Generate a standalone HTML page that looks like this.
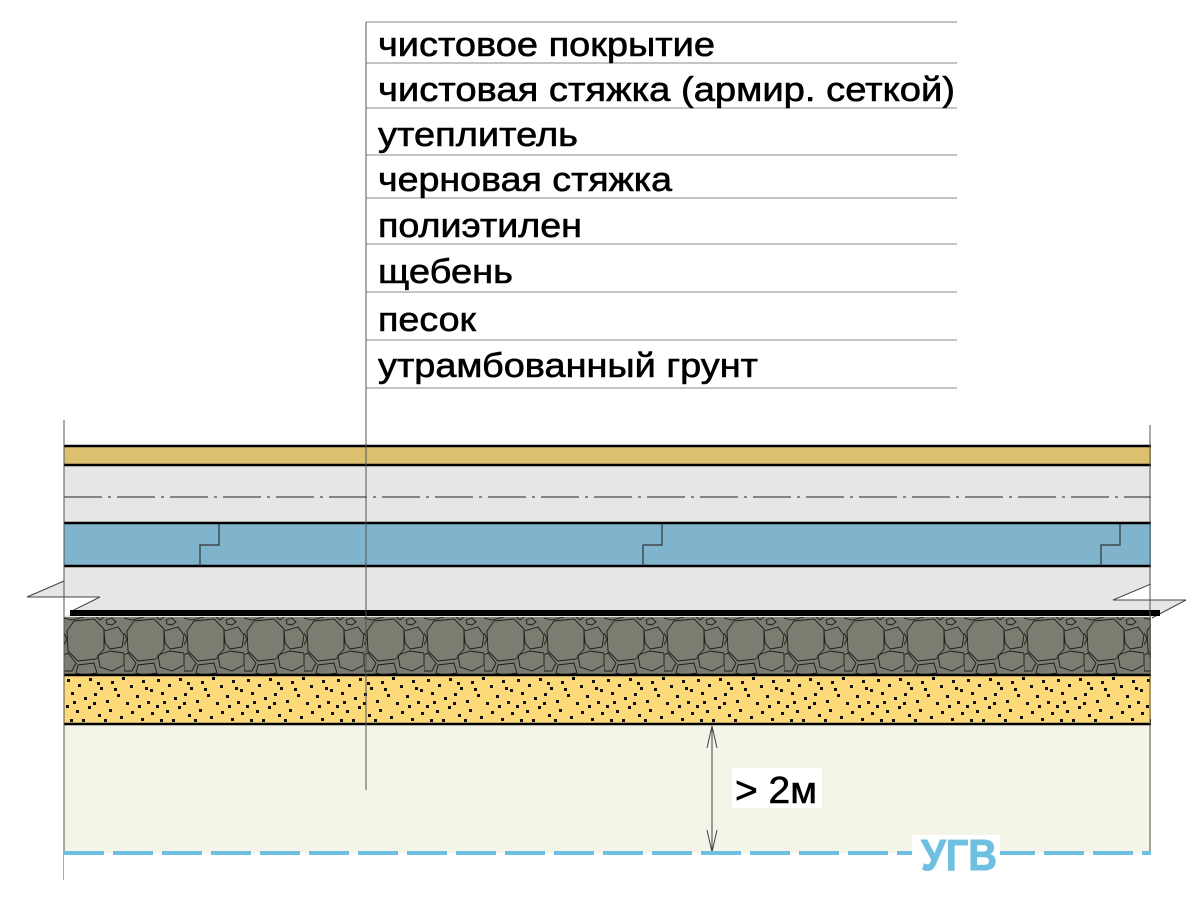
<!DOCTYPE html>
<html><head><meta charset="utf-8"><style>
html,body{margin:0;padding:0;background:#fff;}
svg{display:block;}
</style></head><body>
<svg width="1200" height="911" viewBox="0 0 1200 911" xmlns="http://www.w3.org/2000/svg">
<defs>
<pattern id="grav" x="64" y="617" width="60" height="58" patternUnits="userSpaceOnUse">
<rect width="60" height="58" fill="#7c7c70"/>
<g fill="none" stroke="#1a1a1a" stroke-width="0.9">
<polygon points="10,4 30,2 40,12 40,32 32,42 14,44 4,34 3,14"/>
<polygon points="40,14 54,10 60,18 58,30 46,32 41,26"/>
<polygon points="42,3 48,1 52,5 48,8 43,7"/>
<polygon points="34,38 46,34 60,36 60,48 48,54 36,50"/>
<polygon points="0,38 4,36 12,46 8,54 0,54"/>
<polygon points="14,48 30,46 33,56 20,58 12,56"/>
<polyline points="0,1 8,3 20,0"/>
<polyline points="32,0 36,3 40,0"/>
<polyline points="0,16 3,22 0,28"/>
</g>
</pattern>
<pattern id="sand" x="64" y="675" width="90" height="49" patternUnits="userSpaceOnUse">
<rect width="90" height="49" fill="#fcda7a"/>
<g fill="#111">
<rect x="3" y="4" width="3" height="3"/><rect x="14" y="9" width="3" height="3"/><rect x="25" y="3" width="3" height="3"/>
<rect x="36" y="12" width="3" height="3"/><rect x="47" y="6" width="3" height="3"/><rect x="58" y="2" width="3" height="3"/>
<rect x="66" y="10" width="3" height="3"/><rect x="78" y="5" width="3" height="3"/><rect x="86" y="14" width="3" height="3"/>
<rect x="7" y="17" width="3" height="3"/><rect x="20" y="22" width="3" height="3"/><rect x="30" y="18" width="3" height="3"/>
<rect x="42" y="25" width="3" height="3"/><rect x="53" y="19" width="3" height="3"/><rect x="62" y="27" width="3" height="3"/>
<rect x="72" y="20" width="3" height="3"/><rect x="83" y="26" width="3" height="3"/><rect x="2" y="30" width="3" height="3"/>
<rect x="12" y="35" width="3" height="3"/><rect x="24" y="31" width="3" height="3"/><rect x="34" y="39" width="3" height="3"/>
<rect x="45" y="34" width="3" height="3"/><rect x="56" y="41" width="3" height="3"/><rect x="67" y="36" width="3" height="3"/>
<rect x="77" y="43" width="3" height="3"/><rect x="87" y="37" width="3" height="3"/><rect x="6" y="44" width="3" height="3"/>
<rect x="18" y="44" width="3" height="3"/><rect x="40" y="44" width="3" height="3"/><rect x="50" y="13" width="3" height="3"/>
<rect x="9" y="26" width="3" height="3"/><rect x="29" y="27" width="3" height="3"/><rect x="74" y="30" width="3" height="3"/>
<rect x="33" y="7" width="3" height="3"/><rect x="81" y="12" width="3" height="3"/>
</g>
</pattern>
</defs>

<!-- table -->
<g stroke="#888" stroke-width="1">
<line x1="366" y1="22" x2="957" y2="22"/>
<line x1="366" y1="63" x2="957" y2="63"/>
<line x1="366" y1="108" x2="957" y2="108"/>
<line x1="366" y1="155" x2="957" y2="155"/>
<line x1="366" y1="198" x2="957" y2="198"/>
<line x1="366" y1="244" x2="957" y2="244"/>
<line x1="366" y1="292" x2="957" y2="292"/>
<line x1="366" y1="340" x2="957" y2="340"/>
<line x1="366" y1="388" x2="957" y2="388"/>
</g>
<g font-family="Liberation Sans, sans-serif" font-size="34" fill="#000" stroke="#000" stroke-width="0.6">
<text x="378" y="56" textLength="337" lengthAdjust="spacingAndGlyphs">чистовое покрытие</text>
<text x="378" y="101" textLength="577" lengthAdjust="spacingAndGlyphs">чистовая стяжка (армир. сеткой)</text>
<text x="378" y="146" textLength="200" lengthAdjust="spacingAndGlyphs">утеплитель</text>
<text x="378" y="191" textLength="294" lengthAdjust="spacingAndGlyphs">черновая стяжка</text>
<text x="378" y="237" textLength="204" lengthAdjust="spacingAndGlyphs">полиэтилен</text>
<text x="378" y="283" textLength="135" lengthAdjust="spacingAndGlyphs">щебень</text>
<text x="378" y="331" textLength="98" lengthAdjust="spacingAndGlyphs">песок</text>
<text x="378" y="377" textLength="380" lengthAdjust="spacingAndGlyphs">утрамбованный грунт</text>
</g>

<!-- layers -->
<rect x="64" y="724" width="1087" height="129" fill="#f5f4e8"/>
<rect x="64" y="675" width="1087" height="49" fill="url(#sand)"/>
<rect x="64" y="617" width="1087" height="58" fill="url(#grav)"/>
<polygon points="64,566 1151,566 1151,584 1113,600 1186,600 1152,617 64,617 100,597 27,597 64,581" fill="#e6e6e6"/>
<polyline points="64,581 27,597 100,597 70,612" fill="none" stroke="#444" stroke-width="1"/>
<polyline points="1151,584 1113,600 1186,600 1152,618" fill="none" stroke="#444" stroke-width="1"/>
<rect x="64" y="523" width="1087" height="43" fill="#80b4cc"/>
<rect x="64" y="465" width="1087" height="58" fill="#e6e6e6"/>
<rect x="64" y="446" width="1087" height="19" fill="#dcc070"/>
<rect x="70" y="610" width="1090" height="6" fill="#000"/>
<g stroke="#000" stroke-width="2.5">
<line x1="64" y1="446" x2="1151" y2="446"/>
<line x1="64" y1="465" x2="1151" y2="465"/>
<line x1="64" y1="523" x2="1151" y2="523"/>
<line x1="64" y1="566" x2="1151" y2="566"/>
<line x1="64" y1="675" x2="1151" y2="675"/>
<line x1="64" y1="724" x2="1151" y2="724"/>
</g>
<line x1="64" y1="497" x2="1151" y2="497" stroke="#222" stroke-width="1" stroke-dasharray="38,6,3,6"/>
<g fill="none" stroke="#333" stroke-width="1.2">
<polyline points="219,524 219,545 200,545 200,566"/>
<polyline points="662,524 662,545 643,545 643,566"/>
<polyline points="1120,524 1120,545 1101,545 1101,566"/>
</g>
<!-- borders -->
<line x1="64" y1="420" x2="64" y2="880" stroke="#555" stroke-width="1"/>
<line x1="1150" y1="425" x2="1150" y2="880" stroke="#555" stroke-width="1"/>
<line x1="366" y1="22" x2="366" y2="790" stroke="#555" stroke-width="1"/>

<!-- dimension -->
<line x1="712" y1="726" x2="712" y2="852" stroke="#444" stroke-width="1"/>
<polyline points="707,748 712,726 717,748" fill="none" stroke="#444" stroke-width="1"/>
<polyline points="707,830 712,852 717,830" fill="none" stroke="#444" stroke-width="1"/>
<rect x="732" y="768" width="90" height="40" fill="#fff"/>
<text x="735" y="803" font-family="Liberation Sans, sans-serif" font-size="38" fill="#000" stroke="#000" stroke-width="0.6" textLength="82" lengthAdjust="spacingAndGlyphs">&gt; 2м</text>

<rect x="64" y="853" width="1087" height="40" fill="#fff"/>
<line x1="64" y1="853" x2="1151" y2="853" stroke="#6ec0e0" stroke-width="4" stroke-dasharray="40,9"/>
<rect x="912" y="835" width="88" height="40" fill="#fff"/>
<text x="921" y="870" font-family="Liberation Sans, sans-serif" font-size="44" font-weight="bold" fill="#6ec0e0" stroke="#6ec0e0" stroke-width="1" textLength="76" lengthAdjust="spacingAndGlyphs">УГВ</text>
</svg>
</body></html>
